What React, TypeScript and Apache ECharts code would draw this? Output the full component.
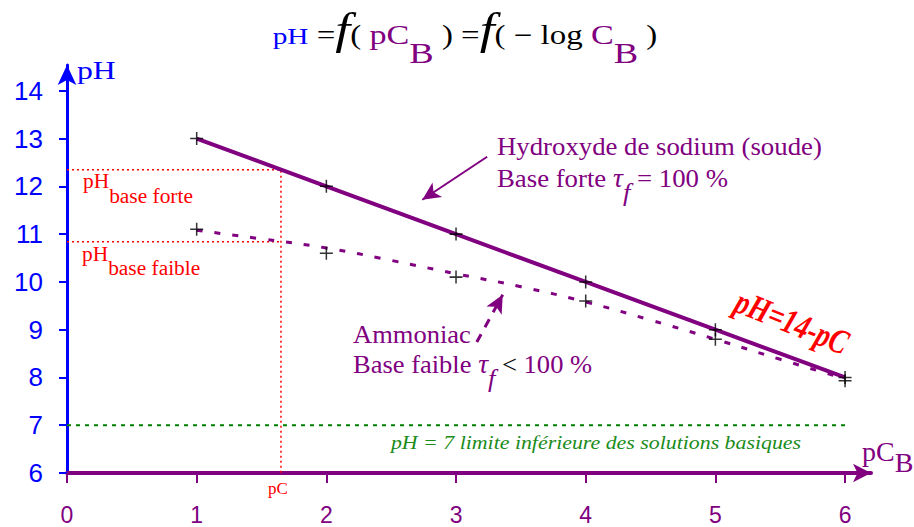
import React, { useEffect, useRef } from 'react';
import * as echarts from 'echarts';

// ---- data ----
const xTicks = [0, 1, 2, 3, 4, 5, 6];
const yTicks = [6, 7, 8, 9, 10, 11, 12, 13, 14];
const pCValues = [1, 2, 3, 4, 5, 6];
const pHStrong = [13, 12, 11, 10, 9, 8];
const pHWeakMeasured = [11.1, 10.6, 10.1, 9.6, 8.8, 7.93];
const weakCurvePC = [1, 1.5, 2, 2.5, 3, 3.5, 4, 4.5, 5, 5.5, 6];
const weakCurvePH = [11.08, 10.9, 10.71, 10.45, 10.17, 9.9, 9.58, 9.2, 8.8, 8.38, 7.97];
const pCExample = 1.65;
const pHStrongExample = 12.35;
const pHWeakExample = 10.84;
const pHNeutral = 7;
const pHNeutralEndPC = 6;
const strongArrowFrom = [3.24, 12.62];
const strongArrowTo = [2.74, 11.72];
const weakArrowFrom = [3.16, 8.74];
const weakArrowTo = [3.36, 9.73];

const PURPLE = '#800080';
const BLUE = '#0000ff';
const RED = '#ff0000';
const GREEN = '#008000';
const SERIF = '"Liberation Serif", "Times New Roman", serif';
const SANS = '"Liberation Sans", Arial, sans-serif';

const plusSymbol = 'path://M5.3,0H6.7V12H5.3Z M0,5.3H12V6.7H0Z';

type Part = { t: string; size: number; color: string; italic?: boolean; bold?: boolean; drop?: number; family?: string };

// Rich text whose tokens are positioned on a common baseline (with optional subscript drop)
function richText(parts: Part[], x: number, baseline: number, align: 'left' | 'center' | 'right', scaleX = 1) {
  const B0 = 50;
  const rich: any = {};
  let text = '';
  parts.forEach((p, i) => {
    const key = 's' + i;
    const drop = p.drop || 0;
    const pad = Math.max(0, B0 + drop - 0.8375 * p.size);
    rich[key] = {
      fontSize: p.size,
      fontFamily: p.family || SERIF,
      fontStyle: p.italic ? 'italic' : 'normal',
      fontWeight: p.bold ? 'bold' : 'normal',
      fill: p.color,
      verticalAlign: 'top',
      padding: [pad, 0, 0, 0],
    };
    text += '{' + key + '|' + p.t + '}';
  });
  return {
    type: 'text',
    silent: true,
    z: 100,
    x,
    y: baseline - B0,
    scaleX,
    style: {
      text,
      rich,
      x: 0,
      y: 0,
      align,
      verticalAlign: 'top',
    },
  };
}

function App() {
  const ref = useRef<HTMLDivElement>(null);
  useEffect(() => {
    document.body.style.margin = '0';
    if (!ref.current) return;
    const chart = echarts.init(ref.current, null, { renderer: 'svg' });

    const dotted = (color: string, width: number, dash: number[]) => ({
      type: 'line',
      symbol: 'none',
      silent: true,
      lineStyle: { color, width, type: dash },
    });

    const option: any = {
      animation: false,
      backgroundColor: '#ffffff',
      grid: { left: 67, right: 43, top: 65, bottom: 54, containLabel: false, outerBoundsMode: 'none' },
      xAxis: {
        type: 'value',
        min: 0,
        max: 6.2,
        interval: 1,
        axisLine: {
          onZero: false,
          symbol: ['none', 'arrow'],
          symbolSize: [14, 18],
          lineStyle: { color: PURPLE, width: 4 },
        },
        axisTick: { show: true, length: 10, customValues: xTicks, lineStyle: { color: PURPLE, width: 2 } },
        axisLabel: {
          customValues: xTicks,
          color: PURPLE,
          fontSize: 23,
          lineHeight: 22,
          fontFamily: SANS,
          margin: 31,
        },
        splitLine: { show: false },
      },
      yAxis: {
        type: 'value',
        min: 6,
        max: 14.54,
        interval: 1,
        axisLine: {
          show: true,
          onZero: false,
          symbol: ['none', 'arrow'],
          symbolSize: [14, 20],
          lineStyle: { color: BLUE, width: 3 },
        },
        axisTick: { show: true, length: 8, customValues: yTicks, lineStyle: { color: BLUE, width: 2 } },
        axisLabel: {
          customValues: yTicks,
          color: BLUE,
          fontSize: 26,
          fontFamily: SANS,
          margin: 24,
        },
        splitLine: { show: false },
      },
      series: [
        {
          ...dotted(RED, 1.5, [2, 3]),
          data: [[0, pHStrongExample], [pCExample, pHStrongExample], [pCExample, yTicks[0]]],
          z: 1,
        },
        {
          ...dotted(RED, 1.5, [2, 3]),
          data: [[0, pHWeakExample], [pCExample, pHWeakExample]],
          z: 1,
        },
        {
          ...dotted(GREEN, 2, [4, 5]),
          data: [[0, pHNeutral], [pHNeutralEndPC, pHNeutral]],
          z: 1,
        },
        {
          type: 'line',
          symbol: 'none',
          silent: true,
          smooth: true,
          data: weakCurvePC.map((x, i) => [x, weakCurvePH[i]]),
          lineStyle: { color: PURPLE, width: 3, type: [6, 12] },
          z: 2,
        },
        {
          type: 'line',
          symbol: 'none',
          silent: true,
          data: pCValues.map((x, i) => [x, pHStrong[i]]),
          lineStyle: { color: PURPLE, width: 4 },
          z: 3,
          markLine: {
            silent: true,
            symbol: ['none', 'arrow'],
            symbolSize: [13, 18],
            label: { show: false },
            animation: false,
            data: [
              [
                { coord: strongArrowFrom, lineStyle: { color: PURPLE, width: 2, type: 'solid' } },
                { coord: strongArrowTo },
              ],
              [
                { coord: weakArrowFrom, lineStyle: { color: PURPLE, width: 3, type: [9, 8] } },
                { coord: weakArrowTo },
              ],
            ],
          },
        },
        {
          type: 'scatter',
          silent: true,
          symbol: plusSymbol,
          symbolSize: 13,
          itemStyle: { color: '#000000' },
          data: pCValues.map((x, i) => [x, pHStrong[i]]),
          z: 5,
        },
        {
          type: 'scatter',
          silent: true,
          symbol: plusSymbol,
          symbolSize: 13,
          itemStyle: { color: '#000000' },
          data: pCValues.map((x, i) => [x, pHWeakMeasured[i]]),
          z: 5,
        },
      ],
      graphic: [
        // title
        richText(
          [
            { t: 'pH', size: 24, color: BLUE },
            { t: ' =', size: 27, color: '#000' },
            { t: 'f', size: 44, color: '#000', italic: true },
            { t: '( ', size: 27, color: '#000' },
            { t: 'pC', size: 28, color: PURPLE },
            { t: 'B', size: 30, color: PURPLE, drop: 19 },
            { t: ' ) =', size: 27, color: '#000' },
            { t: 'f', size: 44, color: '#000', italic: true },
            { t: '( − log ', size: 27, color: '#000' },
            { t: 'C', size: 28, color: PURPLE },
            { t: 'B', size: 30, color: PURPLE, drop: 19 },
            { t: ' )', size: 27, color: '#000' },
          ],
          465,
          44,
          'center',
          1.22
        ),
        // axis names
        richText([{ t: 'pH', size: 26, color: BLUE }], 77, 79, 'left', 1.22),
        richText(
          [
            { t: 'pC', size: 28, color: PURPLE },
            { t: 'B', size: 28, color: PURPLE, drop: 11 },
          ],
          862,
          461,
          'left'
        ),
        // pH labels
        richText(
          [
            { t: 'pH', size: 20, color: RED },
            { t: 'base forte', size: 20, color: RED, drop: 15 },
          ],
          83,
          188,
          'left',
          1.07
        ),
        richText(
          [
            { t: 'pH', size: 20, color: RED },
            { t: 'base faible', size: 20, color: RED, drop: 14 },
          ],
          82,
          261,
          'left',
          1.07
        ),
        richText([{ t: 'pC', size: 17, color: RED }], 278, 494, 'center'),
        // strong base annotation
        richText([{ t: 'Hydroxyde de sodium (soude)', size: 26, color: PURPLE }], 497, 155, 'left', 1.03),
        richText(
          [
            { t: 'Base forte ', size: 26, color: PURPLE },
            { t: 'τ', size: 27, color: PURPLE, italic: true },
            { t: 'f', size: 26, color: PURPLE, italic: true, drop: 14 },
            { t: ' = 100 %', size: 26, color: PURPLE },
          ],
          497,
          187,
          'left',
          1.03
        ),
        // weak base annotation
        richText([{ t: 'Ammoniac', size: 26, color: PURPLE }], 353, 343, 'left', 1.02),
        richText(
          [
            { t: 'Base faible ', size: 26, color: PURPLE },
            { t: 'τ', size: 27, color: PURPLE, italic: true },
            { t: 'f', size: 26, color: PURPLE, italic: true, drop: 14 },
            { t: ' < ', size: 26, color: '#000' },
            { t: '100 %', size: 26, color: PURPLE },
          ],
          353,
          373,
          'left',
          1.02
        ),
        // limit text
        richText(
          [{ t: 'pH = 7 limite inférieure des solutions basiques', size: 19, color: '#1a8c1a', italic: true }],
          596,
          449,
          'center',
          1.15
        ),
        // equation
        {
          type: 'text',
          silent: true,
          z: 100,
          x: 792,
          y: 322,
          rotation: (-22 * Math.PI) / 180,
          scaleX: 0.78,
          style: {
            text: 'pH=14-pC',
            x: 0,
            y: 0,
            align: 'center',
            verticalAlign: 'middle',
            fill: RED,
            fontSize: 35,
            fontStyle: 'italic',
            fontWeight: 'bold',
            fontFamily: SERIF,
          },
        },
      ],
    };
    chart.setOption(option);
    return () => chart.dispose();
  }, []);
  return <div ref={ref} style={{ position: 'fixed', left: 0, top: 0, width: 914, height: 527, background: '#fff' }} />;
}

export default App;
